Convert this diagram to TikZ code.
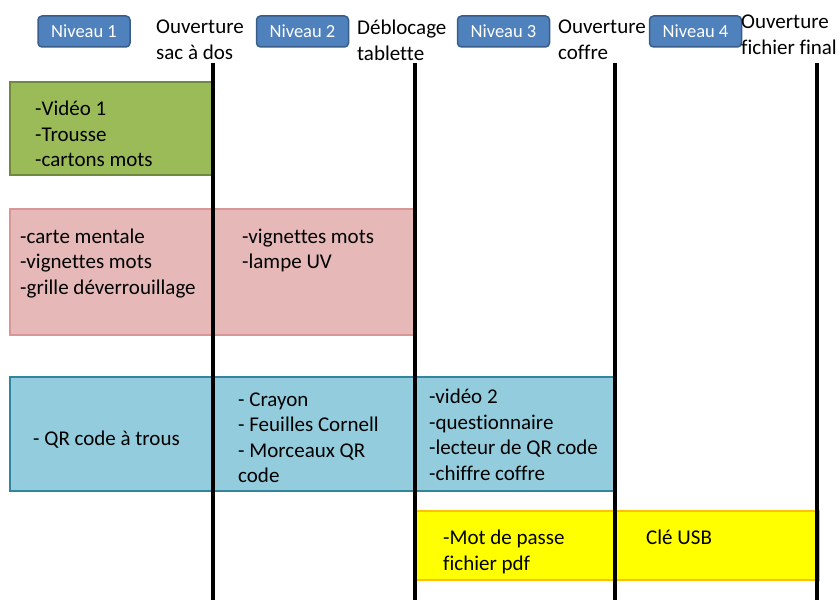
\documentclass[tikz,border=0pt]{standalone}
\usepackage{fontspec}
\setmainfont{Carlito}[Ligatures=NoCommon]
\usepackage{tikz}
\definecolor{vertfond}{HTML}{9BBB59}
\definecolor{vertbord}{HTML}{71893F}
\definecolor{rosefond}{HTML}{E6B9B8}
\definecolor{rosebord}{HTML}{D99694}
\definecolor{bleufond}{HTML}{93CDDD}
\definecolor{bleubord}{HTML}{31859C}
\definecolor{jaunefond}{HTML}{FFFF00}
\definecolor{jaunebord}{HTML}{FFC000}
\definecolor{bouton}{HTML}{4F81BD}
\definecolor{boutonbord}{HTML}{385D8A}
\newcommand{\corps}{\fontsize{21}{25.5}\selectfont}

\begin{document}
\begin{tikzpicture}[x=1pt,y=-1pt,
  txt/.style={anchor=north west,inner sep=0,align=left,font=\corps},
  niveau/.style={draw=boutonbord,fill=bouton,line width=1.5,rounded corners=4,
    minimum width=92,minimum height=31,text=white,font=\fontsize{18.5}{20}\selectfont},
  trait/.style={line width=3.5,black}]
\useasboundingbox (0,0) rectangle (840,610);
% bandes
\draw[line width=2,draw=vertbord,fill=vertfond] (10,82) rectangle (213,175);
\draw[line width=2,draw=rosebord,fill=rosefond] (10,209) rectangle (415,335);
\draw[line width=2,draw=bleubord,fill=bleufond] (10,377) rectangle (615,491);
\draw[line width=2,draw=jaunebord,fill=jaunefond] (415,511) rectangle (819,580);
% traits verticaux
\coordinate (sac) at (213,63);
\coordinate (sac bas) at (213,600);
\coordinate (tab) at (415,63);
\coordinate (tab bas) at (415,600);
\coordinate (cof) at (615,63);
\coordinate (cof bas) at (615,600);
\coordinate (fin) at (817,63);
\coordinate (fin bas) at (817,600);
\draw[trait] (sac) -- (sac bas);
\draw[trait] (tab) -- (tab bas);
\draw[trait] (cof) -- (cof bas);
\draw[trait] (fin) -- (fin bas);
% niveaux
\node[niveau] (n1) at (84,31.5) {Niveau 1};
\node[niveau] (n2) at (302.5,31.5) {Niveau 2};
\node[niveau] (n3) at (503.5,31.5) {Niveau 3};
\node[niveau] (n4) at (695.5,31.5) {Niveau 4};
% etapes
\node[txt] (e1) at (156,20) {Ouverture\\sac à dos};
\node[txt] (e2) at (357,20) {Déblocage\\tablette};
\node[txt] (e3) at (558,20) {Ouverture\\coffre};
\node[txt] (e4) at (741,15) {Ouverture\\fichier final};
% contenus
\node[txt] (v1) at (35,101) {-Vidéo 1\\-Trousse\\-cartons mots};
\node[txt] (r1) at (20,228.5) {-carte mentale\\-vignettes mots\\-grille déverrouillage};
\node[txt] (r2) at (242,228.5) {-vignettes mots\\-lampe UV};
\node[txt] (b1) at (33,430.5) {- QR code à trous};
\node[txt] (b2) at (238,392.5) {- Crayon\\- Feuilles Cornell\\- Morceaux QR\\code};
\node[txt] (b3) at (429,389) {-vidéo 2\\-questionnaire\\-lecteur de QR code\\-chiffre coffre};
\node[txt] (j1) at (443,530) {-Mot de passe\\fichier pdf};
\node[txt] (j2) at (646,530) {Clé USB};
\end{tikzpicture}
\end{document}
